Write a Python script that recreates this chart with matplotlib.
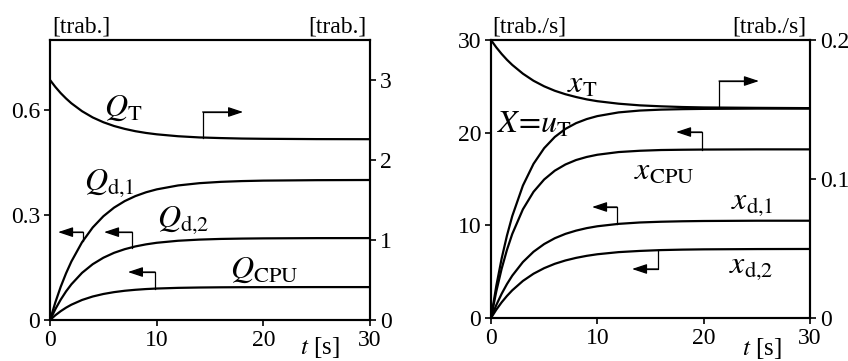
import matplotlib
matplotlib.use('Agg')
import matplotlib.pyplot as plt

plt.rcParams['font.family'] = ['Liberation Serif', 'DejaVu Serif']
plt.rcParams['mathtext.fontset'] = 'stix'

# Time samples [s]
t = [0, 0.5, 1, 1.5, 2, 3, 4, 5, 6, 7, 8, 9, 10, 12, 14, 16, 18, 20, 25, 30]

# Queue lengths [jobs]
q_total = [3.00, 2.913, 2.836, 2.769, 2.709, 2.610, 2.532, 2.472, 2.425, 2.389,
           2.360, 2.338, 2.321, 2.297, 2.282, 2.274, 2.268, 2.265, 2.261, 2.26]
q_d1 = [0, 0.0506, 0.0948, 0.1333, 0.1670, 0.2222, 0.2643, 0.2964, 0.3210, 0.3397,
        0.3540, 0.3649, 0.3732, 0.3844, 0.3909, 0.3947, 0.3969, 0.3982, 0.3995, 0.40]
q_d2 = [0, 0.0311, 0.0581, 0.0816, 0.1019, 0.1347, 0.1594, 0.1779, 0.1919, 0.2023,
        0.2102, 0.2161, 0.2206, 0.2264, 0.2297, 0.2316, 0.2326, 0.2332, 0.2339, 0.234]
q_cpu = [0, 0.0136, 0.0252, 0.0352, 0.0437, 0.0572, 0.0671, 0.0743, 0.0796, 0.0835,
         0.0863, 0.0884, 0.0899, 0.0918, 0.0928, 0.0934, 0.0937, 0.0938, 0.094, 0.094]

# Throughputs [jobs/s]
x_total = [0.200, 0.1947, 0.1900, 0.1858, 0.1821, 0.1758, 0.1707, 0.1667, 0.1635, 0.1610,
           0.1590, 0.1573, 0.1560, 0.1542, 0.1530, 0.1523, 0.1518, 0.1515, 0.1512, 0.151]
u_total = [0, 3.47, 6.41, 8.89, 11.0, 14.29, 16.64, 18.33, 19.54, 20.41,
           21.03, 21.47, 21.79, 22.19, 22.39, 22.49, 22.54, 22.57, 22.6, 22.6]
x_cpu = [0, 2.88, 5.31, 7.35, 9.07, 11.73, 13.62, 14.95, 15.90, 16.57,
         17.05, 17.38, 17.62, 17.91, 18.05, 18.13, 18.16, 18.18, 18.2, 18.2]
x_d1 = [0, 1.40, 2.61, 3.66, 4.57, 6.04, 7.15, 7.98, 8.61, 9.08,
        9.43, 9.70, 9.90, 10.16, 10.31, 10.39, 10.44, 10.47, 10.5, 10.5]
x_d2 = [0, 0.90, 1.69, 2.38, 2.99, 4.00, 4.78, 5.38, 5.85, 6.21,
        6.49, 6.71, 6.88, 7.11, 7.24, 7.33, 7.38, 7.41, 7.44, 7.45]

TICK = 17
LAB = 23
LW = 1.6

fig = plt.figure(figsize=(8.48, 3.61), dpi=100)
axl = fig.add_axes([0.059, 0.1136, 0.3774, 0.7756])
axr = fig.add_axes([0.579, 0.1191, 0.3762, 0.770])


def style(ax, ax2):
    for a in (ax, ax2):
        for s in a.spines.values():
            s.set_linewidth(1.5)
        a.tick_params(labelsize=TICK, width=1.2, length=4, pad=3, direction='out')
    ax.set_xlim(0, 30)
    ax.set_xticks([0, 10, 20, 30])


def bent_arrow(ax, x0, y0, y1, x1):
    # vertical stem from the curve, then a horizontal arrow
    ax.plot([x0, x0, x1 + (0.6 if x1 < x0 else -0.6)], [y0, y1, y1], color='k', lw=0.9)
    ax.annotate('', xy=(x1, y1), xytext=(x0, y1),
                arrowprops=dict(arrowstyle='-|>,head_length=0.9,head_width=0.3',
                                color='k', lw=0.9, shrinkA=0, shrinkB=0))


# Left panel: queue lengths
axl2 = axl.twinx()
style(axl, axl2)
axl.set_ylim(0, 0.8)
axl.set_yticks([0, 0.3, 0.6])
axl.set_yticklabels(['0', '0.3', '0.6'])
axl2.set_ylim(0, 3.5)
axl2.set_yticks([0, 1, 2, 3])

axl2.plot(t, q_total, color='k', lw=LW)
axl.plot(t, q_d1, color='k', lw=LW)
axl.plot(t, q_d2, color='k', lw=LW)
axl.plot(t, q_cpu, color='k', lw=LW)

axl.text(5.1, 0.606, r'$Q_{\rm T}$', fontsize=LAB, va='center')
axl.text(3.2, 0.391, r'$Q_{\rm d{,}1}$', fontsize=LAB, va='center')
axl.text(10.0, 0.286, r'$Q_{\rm d{,}2}$', fontsize=LAB, va='center')
axl.text(16.9, 0.143, r'$Q_{\rm CPU}$', fontsize=LAB, va='center')

bent_arrow(axl2, 14.3, 2.28, 2.6, 18.1)
bent_arrow(axl, 3.1, 0.226, 0.251, 0.75)
bent_arrow(axl, 7.7, 0.207, 0.251, 5.06)
bent_arrow(axl, 9.85, 0.0897, 0.137, 7.3)

axl.text(0.006, 1.046, '[trab.]', transform=axl.transAxes, fontsize=TICK, va='center', ha='left')
axl.text(0.99, 1.046, '[trab.]', transform=axl.transAxes, fontsize=TICK, va='center', ha='right')
axl.text(0.844, -0.1, r'$t$ [s]', transform=axl.transAxes, fontsize=TICK + 1, va='center', ha='center')

# Right panel: throughputs
axr2 = axr.twinx()
style(axr, axr2)
axr.set_ylim(0, 30)
axr.set_yticks([0, 10, 20, 30])
axr2.set_ylim(0, 0.2)
axr2.set_yticks([0, 0.1, 0.2])
axr2.set_yticklabels(['0', '0.1', '0.2'])

axr2.plot(t, x_total, color='k', lw=LW)
axr.plot(t, u_total, color='k', lw=LW)
axr.plot(t, x_cpu, color='k', lw=LW)
axr.plot(t, x_d1, color='k', lw=LW)
axr.plot(t, x_d2, color='k', lw=LW)

axr.text(7.15, 25.1, r'$x_{\rm T}$', fontsize=LAB, va='center')
axr.text(0.56, 20.8, r'$X\!=\!u_{\rm T}$', fontsize=LAB, va='center')
axr.text(13.45, 15.75, r'$x_{\rm CPU}$', fontsize=LAB, va='center')
axr.text(22.57, 12.4, r'$x_{\rm d{,}1}$', fontsize=LAB, va='center')
axr.text(22.4, 5.4, r'$x_{\rm d{,}2}$', fontsize=LAB, va='center')

bent_arrow(axr2, 21.44, 0.1515, 0.1705, 25.2)
bent_arrow(axr, 19.84, 18.18, 20.07, 17.4)
bent_arrow(axr, 11.85, 10.1, 11.98, 9.5)
bent_arrow(axr, 15.7, 7.33, 5.29, 13.26)

axr.text(0.003, 1.046, '[trab./s]', transform=axr.transAxes, fontsize=TICK, va='center', ha='left')
axr.text(0.99, 1.046, '[trab./s]', transform=axr.transAxes, fontsize=TICK, va='center', ha='right')
axr.text(0.85, -0.108, r'$t$ [s]', transform=axr.transAxes, fontsize=TICK + 1, va='center', ha='center')

fig.savefig('out.png', dpi=100)
